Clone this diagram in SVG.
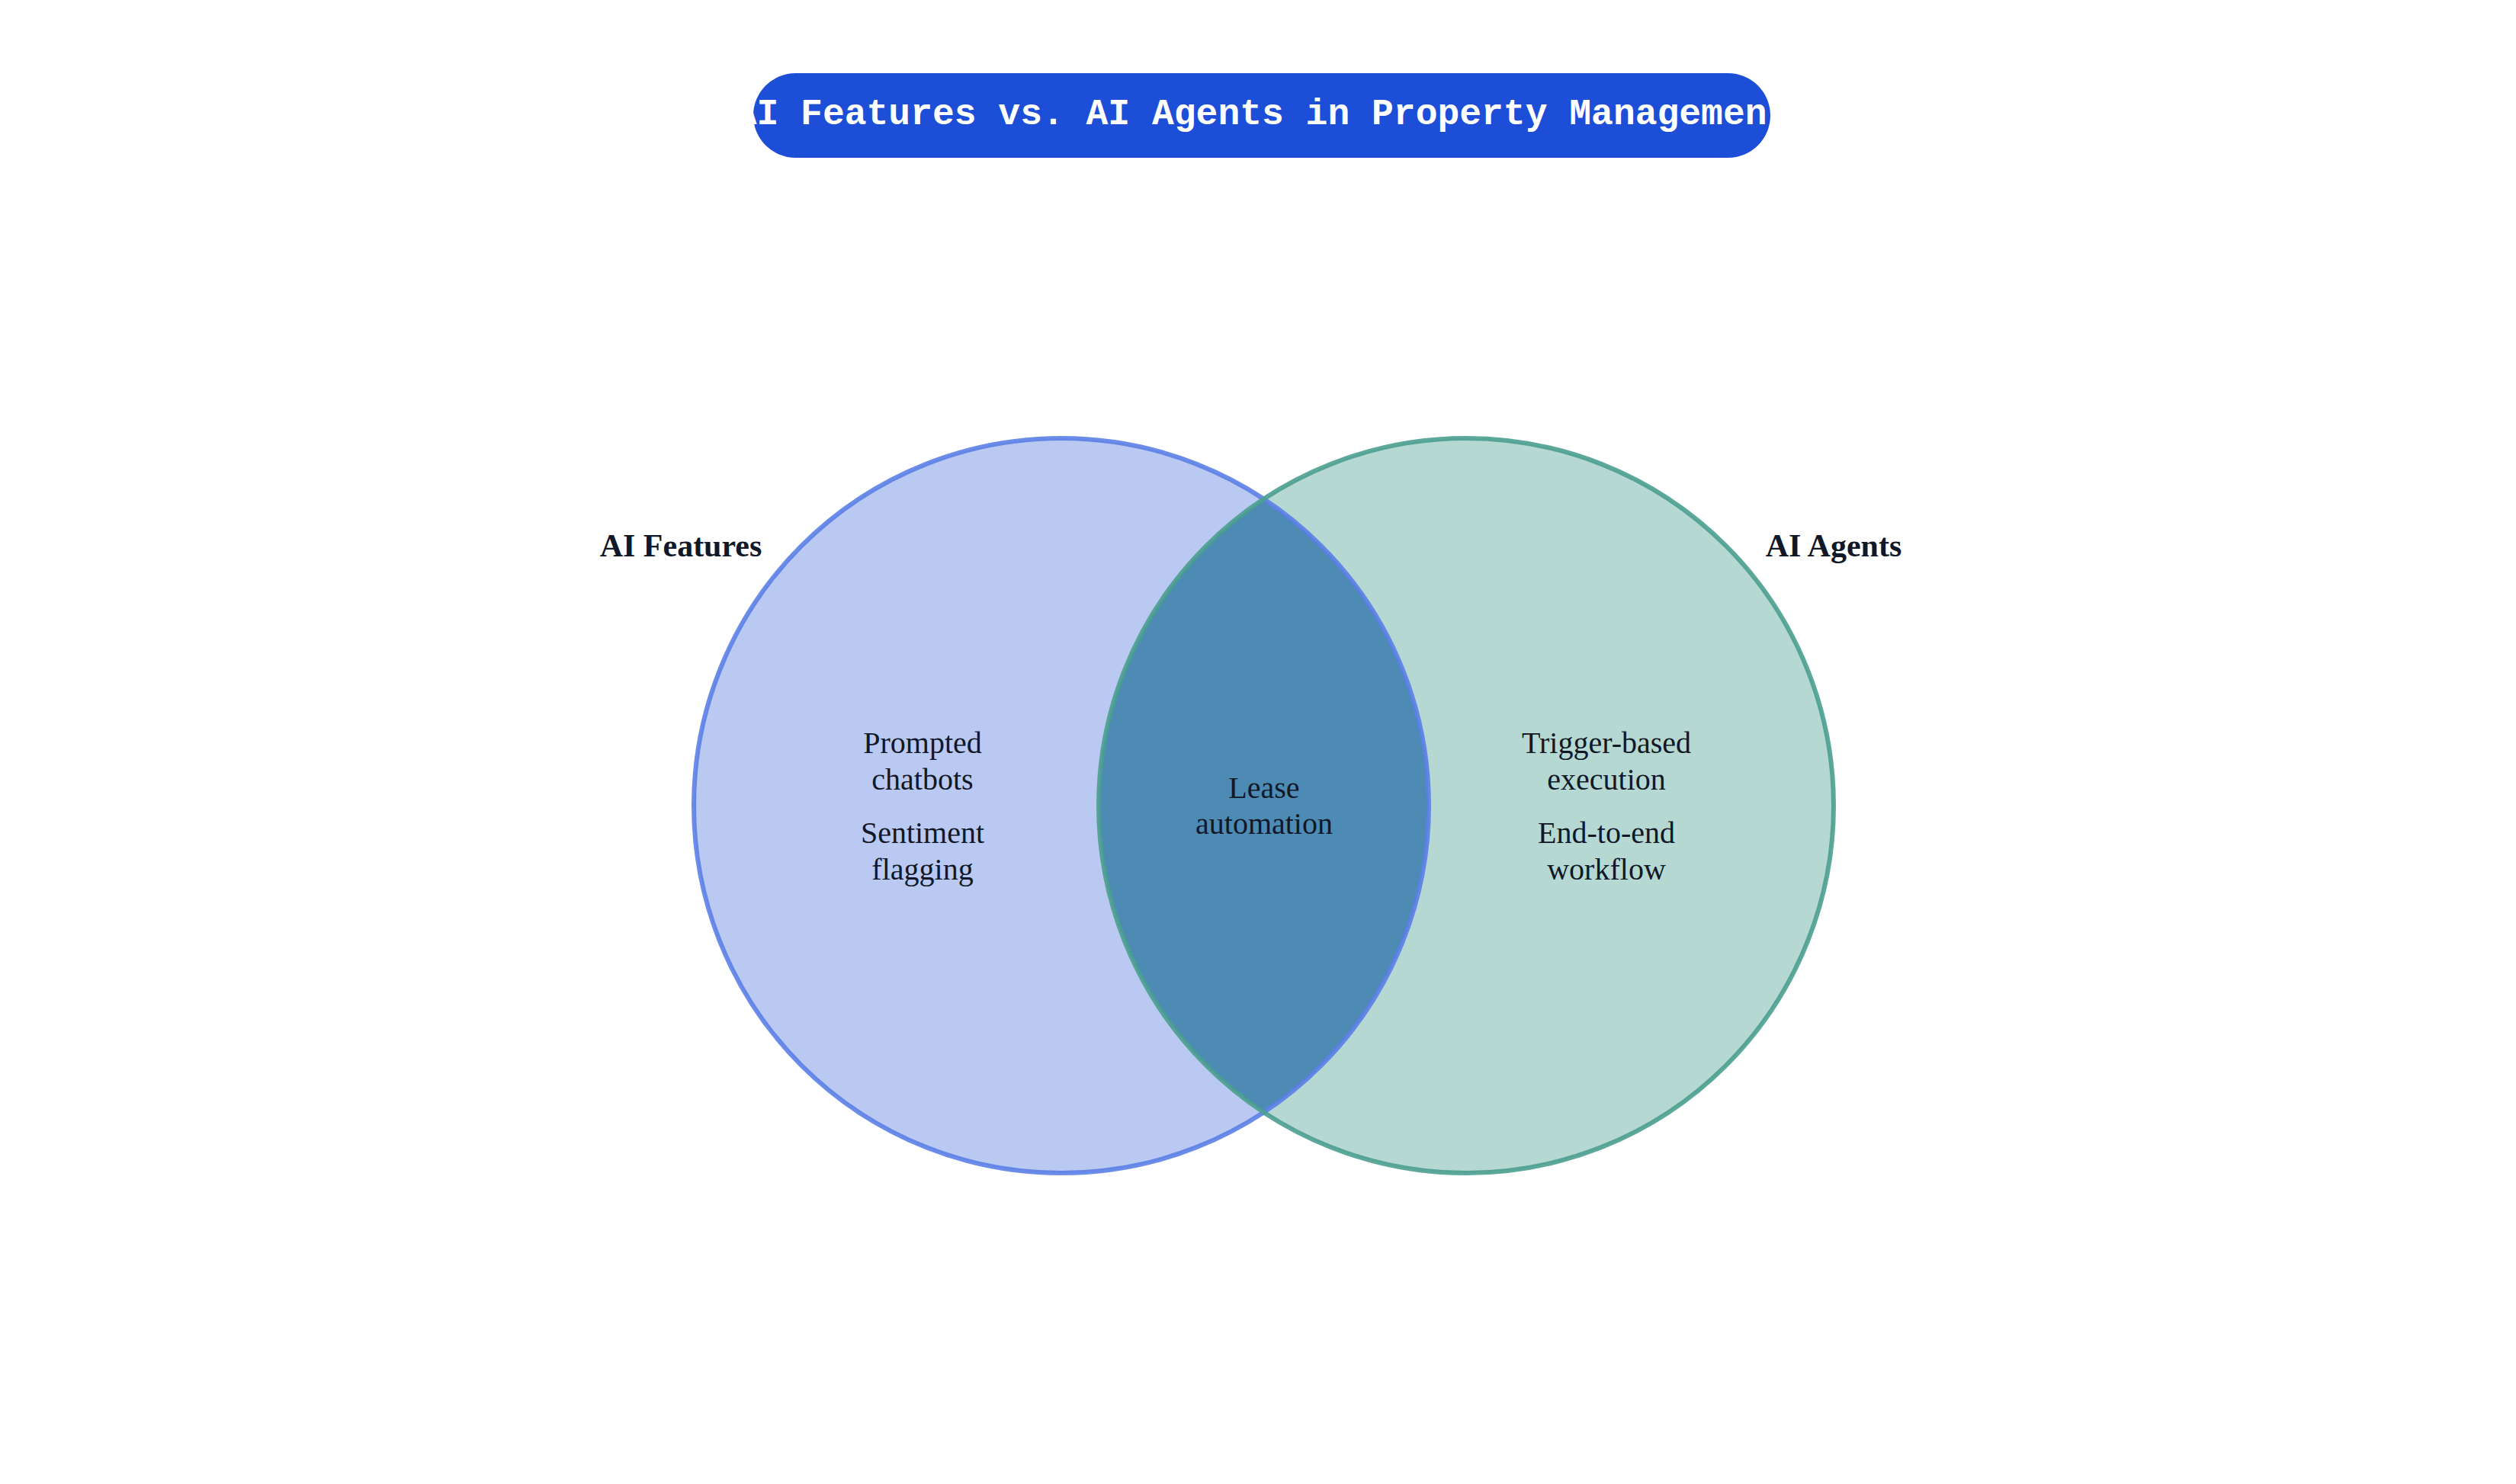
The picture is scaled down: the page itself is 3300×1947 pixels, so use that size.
<svg xmlns="http://www.w3.org/2000/svg" width="3300" height="1947" viewBox="0 0 3300 1947">
<style>
.t{font-family:"Liberation Serif",serif;font-size:40px;fill:#111827;text-anchor:middle}
.h{font-family:"Liberation Serif",serif;font-size:42px;font-weight:bold;fill:#111827;text-anchor:middle}
</style>
<defs><clipPath id="cl"><circle cx="1392" cy="1057" r="482"/></clipPath></defs>
<rect width="3300" height="1947" fill="#fff"/>
<g id="title">
<rect x="988" y="96" width="1334" height="111" rx="55.5" fill="#1d4ed8"/>
<text x="1655" y="163" font-family="Liberation Mono,monospace" font-weight="bold" font-size="48" fill="#fff" text-anchor="middle">AI Features vs. AI Agents in Property Management</text>
</g>
<g id="features"><circle cx="1392" cy="1057" r="482" fill="#b9c9f2"/></g>
<g id="agents"><circle cx="1923" cy="1057" r="482" fill="#b6d8d3"/></g>
<g id="overlap"><circle cx="1923" cy="1057" r="482" fill="#4d8ab4" clip-path="url(#cl)"/></g>
<circle cx="1392" cy="1057" r="482" fill="none" stroke="#5b7fe6" stroke-width="6" stroke-opacity="0.9"/>
<circle cx="1923" cy="1057" r="482" fill="none" stroke="#4a9e8f" stroke-width="6" stroke-opacity="0.9"/>
<text class="h" x="893" y="730">AI Features</text>
<text class="h" x="2405" y="730">AI Agents</text>
<text class="t" x="1210" y="988">Prompted</text>
<text class="t" x="1210" y="1036">chatbots</text>
<text class="t" x="1210" y="1106">Sentiment</text>
<text class="t" x="1210" y="1154">flagging</text>
<text class="t" x="1658" y="1047">Lease</text>
<text class="t" x="1658" y="1094">automation</text>
<text class="t" x="2107" y="988">Trigger-based</text>
<text class="t" x="2107" y="1036">execution</text>
<text class="t" x="2107" y="1106">End-to-end</text>
<text class="t" x="2107" y="1154">workflow</text>
</svg>
